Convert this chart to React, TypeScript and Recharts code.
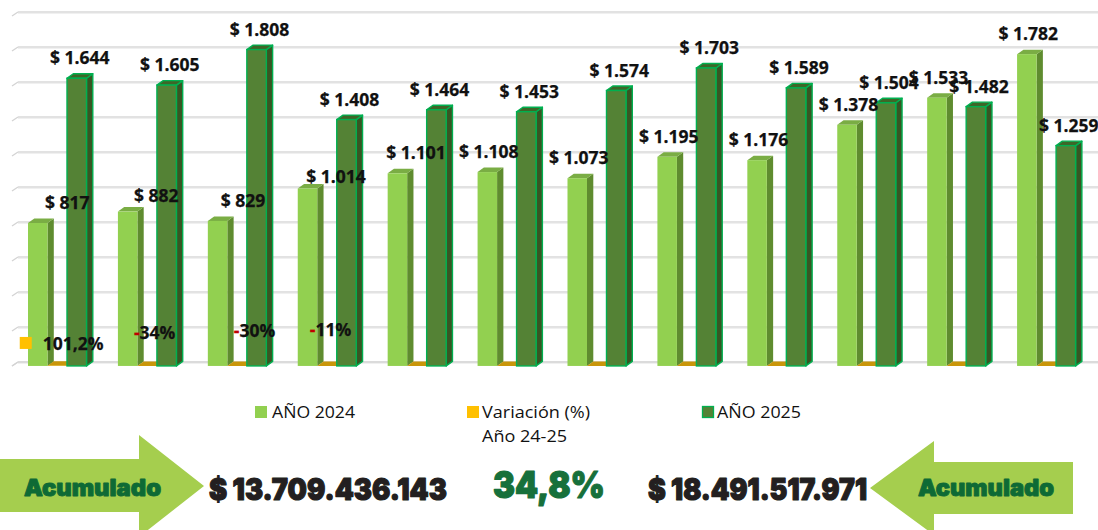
import React from 'react';
import { BarChart, Bar, XAxis, YAxis, CartesianGrid, Legend, LabelList } from 'recharts';

const MESES = ['Ene', 'Feb', 'Mar', 'Abr', 'May', 'Jun', 'Jul', 'Ago', 'Sep', 'Oct', 'Nov', 'Dic'];
const ANIO_2024 = [817, 882, 829, 1014, 1101, 1108, 1073, 1195, 1176, 1378, 1533, 1782];
const ANIO_2025 = [1644, 1605, 1808, 1408, 1464, 1453, 1574, 1703, 1589, 1504, 1482, 1259];
const VARIACION = [1.012, -0.34, -0.3, -0.11, 0, 0, 0, 0, 0, 0, 0, 0];
const VARIACION_TEXTO = ['101,2%', '-34%', '-30%', '-11%', '', '', '', '', '', '', '', ''];
const Y_TICKS = [0, 200, 400, 600, 800, 1000, 1200, 1400, 1600, 1800, 2000];
const SERIE_2024 = 'AÑO 2024';
const SERIE_VAR = 'Variación (%)';
const SERIE_VAR_SUB = 'Año 24-25';
const SERIE_2025 = 'AÑO 2025';
const ACUMULADO = 'Acumulado';
const TOTAL_2024 = '$ 13.709.436.143';
const TOTAL_2025 = '$ 18.491.517.971';
const TOTAL_VARIACION = '34,8%';

const data = MESES.map((mes, i) => ({
  mes,
  a2024: ANIO_2024[i],
  variacion: VARIACION[i],
  a2025: ANIO_2025[i],
  texto: VARIACION_TEXTO[i],
}));

const W = 1098;
const H = 530;
const DX = 6.3;
const DY = 4.5;
const BAR = 19.5;
const LABEL_FONT = "'Open Sans', 'DejaVu Sans', sans-serif";
const HEAVY_FONT = "Inter, Lato, 'Open Sans', sans-serif";

const fmt = (v: number) =>
  '$ ' + (v >= 1000 ? `${Math.floor(v / 1000)}.${String(v % 1000).padStart(3, '0')}` : `${v}`);

type Col = { front: string; side: string; top: string; stroke?: string };

function box3D(x: number, y: number, w: number, h: number, c: Col) {
  const top = Math.min(y, y + h);
  const bot = Math.max(y, y + h);
  const sw = c.stroke ? 1.4 : 0;
  return (
    <g>
      <polygon
        points={`${x + w},${bot} ${x + w + DX},${bot - DY} ${x + w + DX},${top - DY} ${x + w},${top}`}
        fill={c.side}
        stroke={c.stroke || 'none'}
        strokeWidth={sw}
        strokeLinejoin="round"
      />
      <polygon
        points={`${x},${top} ${x + DX},${top - DY} ${x + w + DX},${top - DY} ${x + w},${top}`}
        fill={c.top}
        stroke={c.stroke || 'none'}
        strokeWidth={sw}
        strokeLinejoin="round"
      />
      <rect x={x} y={top} width={w} height={bot - top} fill={c.front} stroke={c.stroke || 'none'} strokeWidth={sw} />
    </g>
  );
}

const LightShape = (p: any) => box3D(p.x, p.y, p.width, p.height, { front: '#92D050', side: '#5F8C2F', top: '#7AAD44' });
const VarShape = (p: any) => box3D(p.x, p.y, p.width, p.height, { front: '#FFC000', side: '#B08000', top: '#C9960A' });
const DarkShape = (p: any) =>
  box3D(p.x, p.y, p.width, p.height, { front: '#548235', side: '#375623', top: '#3E6628', stroke: '#00B050' });

const LABEL_TEXT = {
  fontFamily: LABEL_FONT,
  fontWeight: 700,
  fontSize: 17.5,
  fill: '#111',
  stroke: '#111',
  strokeWidth: 0.25,
} as any;

const DarkLabel = (p: any) => {
  const { x, y, width, value } = p;
  return (
    <text x={x + width / 2 + 3} y={y - 21} textAnchor="middle" dominantBaseline="central" {...LABEL_TEXT}>
      {fmt(value)}
    </text>
  );
};

// label-only series centred on the category: draws 2024 labels and variation labels on top of all bars
const LIGHT_DX = [30, 29, 26, 29, 19];
const LIGHT_DY = [21, 17, 21, 13];
const VAR_DX = [0, 8, 18, 4];
const VAR_DY = [23, 34, 36, 37];

const TopLabels = (p: any) => {
  const { x, y, width, height, value, index } = p;
  const cx = x + width / 2;
  const base = y + height;
  const lightCx = cx - width + (LIGHT_DX[index] ?? 2);
  const lightY = y - (LIGHT_DY[index] ?? 21);
  const txt = VARIACION_TEXTO[index];
  let varEl: any = null;
  if (txt) {
    const vy = base - (VAR_DY[index] ?? 34);
    if (index === 0) {
      varEl = (
        <g>
          <rect x={cx - 37} y={vy - 6} width={12} height={12} fill="#FFC000" />
          <text x={cx - 14} y={vy} dominantBaseline="central" {...LABEL_TEXT}>
            {txt}
          </text>
        </g>
      );
    } else {
      const neg = txt.startsWith('-');
      varEl = (
        <text x={cx + (VAR_DX[index] ?? 0)} y={vy} textAnchor="middle" dominantBaseline="central" {...LABEL_TEXT}>
          {neg ? (
            <tspan fill="#C00000" stroke="#C00000">
              -
            </tspan>
          ) : null}
          <tspan>{neg ? txt.slice(1) : txt}</tspan>
        </text>
      );
    }
  }
  return (
    <g>
      <text x={lightCx} y={lightY} textAnchor="middle" dominantBaseline="central" {...LABEL_TEXT}>
        {fmt(value)}
      </text>
      {varEl}
    </g>
  );
};

const GridLine = (p: any) => {
  const { x1, y1, key } = p;
  const yb = y1 - 4;
  return (
    <g key={key}>
      <line x1={x1} y1={y1} x2={x1 + 6} y2={yb} stroke="#D4D4D4" strokeWidth={1.3} />
      <line x1={x1 + 6} y1={yb} x2={W} y2={yb} stroke="#D9D9D9" strokeWidth={1.5} />
      <line x1={x1 + 6} y1={yb + 1.5} x2={W} y2={yb + 1.5} stroke="#F0F0F0" strokeWidth={1} />
    </g>
  );
};

const LegendContent = () => {
  const textProps = { fontFamily: LABEL_FONT, fontSize: 16.5, fill: '#111' } as any;
  return (
    <svg width={W} height={60} style={{ display: 'block' }}>
      <g transform="translate(0,-395)">
        <rect x={255} y={406} width={12} height={12} fill="#92D050" />
        <text x={272} y={417.5} {...textProps} textLength={83} lengthAdjust="spacingAndGlyphs">
          {SERIE_2024}
        </text>
        <rect x={467} y={406} width={12} height={12} fill="#FFC000" />
        <text x={482} y={417.5} {...textProps} textLength={108} lengthAdjust="spacingAndGlyphs">
          {SERIE_VAR}
        </text>
        <text x={482} y={442} {...textProps} textLength={85} lengthAdjust="spacingAndGlyphs">
          {SERIE_VAR_SUB}
        </text>
        <rect x={702.5} y={406.5} width={11} height={11} fill="#548235" stroke="#00B050" strokeWidth={1.3} />
        <text x={717} y={417.5} {...textProps} textLength={84} lengthAdjust="spacingAndGlyphs">
          {SERIE_2025}
        </text>
      </g>
    </svg>
  );
};

const heavy = (color: string, sw: number) =>
  ({
    fontFamily: HEAVY_FONT,
    fontWeight: 900,
    fill: color,
    stroke: color,
    strokeWidth: sw,
    strokeLinejoin: 'round',
    lengthAdjust: 'spacingAndGlyphs',
  }) as any;

const Summary = () => (
  <svg width={W} height={H} style={{ position: 'absolute', left: 0, top: 0, pointerEvents: 'none' }}>
    <polygon points="0,459 139,459 139,435 204,486 139,537 139,512 0,512" fill="#A5CE4E" />
    <polygon points="1073,462 934,462 934,441 870,488 934,535 934,514 1073,514" fill="#A5CE4E" />
    <text x={24} y={495.5} fontSize={22.5} textLength={137} {...heavy('#0E6A35', 0.9)}>
      {ACUMULADO}
    </text>
    <text x={918} y={495.5} fontSize={22.5} textLength={136} {...heavy('#0E6A35', 0.9)}>
      {ACUMULADO}
    </text>
    <text x={209} y={500} fontSize={30} textLength={238} {...heavy('#231F20', 1.2)}>
      {TOTAL_2024}
    </text>
    <text x={493} y={498} fontSize={37} textLength={112} {...heavy('#17703B', 1.2)}>
      {TOTAL_VARIACION}
    </text>
    <text x={648} y={500} fontSize={30} textLength={219} {...heavy('#231F20', 1.2)}>
      {TOTAL_2025}
    </text>
  </svg>
);

export default function App() {
  return (
    <div style={{ position: 'absolute', left: 0, top: 0, width: W, height: H, background: '#fff', overflow: 'hidden' }}>
      <BarChart
        width={W}
        height={H}
        data={data}
        margin={{ top: 16, right: 7, bottom: 164, left: 12 }}
        barGap={0}
      >
        <XAxis dataKey="mes" hide />
        <XAxis dataKey="mes" xAxisId="etiquetas" hide />
        <YAxis hide domain={[0, 2000]} ticks={Y_TICKS} />
        <CartesianGrid vertical={false} horizontal={GridLine} />
        <Bar dataKey="a2024" name={SERIE_2024} fill="#92D050" barSize={BAR} shape={LightShape} isAnimationActive={false} />
        <Bar dataKey="variacion" name={SERIE_VAR} fill="#FFC000" barSize={BAR} shape={VarShape} isAnimationActive={false} />
        <Bar dataKey="a2025" name={SERIE_2025} fill="#548235" barSize={BAR} shape={DarkShape} isAnimationActive={false}>
          <LabelList dataKey="a2025" content={DarkLabel} />
        </Bar>
        <Bar
          dataKey="a2024"
          xAxisId="etiquetas"
          legendType="none"
          barSize={BAR}
          fill="transparent"
          shape={() => <g />}
          isAnimationActive={false}
        >
          <LabelList dataKey="a2024" content={TopLabels} />
        </Bar>
        <Legend
          layout="horizontal"
          verticalAlign="middle"
          align="center"
          wrapperStyle={{ position: 'absolute', left: 0, top: 395, width: W, height: 60 }}
          content={LegendContent}
        />
      </BarChart>
      <Summary />
    </div>
  );
}
